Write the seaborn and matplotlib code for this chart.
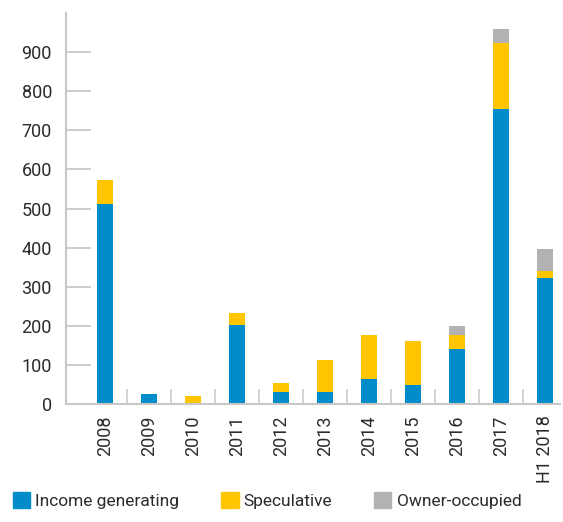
import pandas as pd
import seaborn as sns
import numpy as np
import matplotlib.pyplot as plt
from matplotlib.patches import Patch

years = ['2008', '2009', '2010', '2011', '2012', '2013', '2014', '2015', '2016', '2017', 'H1 2018']
income = [511, 25, 0, 202, 31, 31, 64, 49, 141, 754, 322]
speculative = [62, 0, 20, 31, 23, 81, 112, 112, 35, 169, 18]
owner = [0, 0, 0, 0, 0, 0, 0, 0, 23, 36, 56]

c_blue = '#008bcb'
c_yellow = '#ffc600'
c_grey = '#b2b2b2'

df = pd.DataFrame({'year': years, 'income': income, 'spec': speculative, 'owner': owner})
df['lvl2'] = df['income'] + df['spec']
df['lvl3'] = df['lvl2'] + df['owner']

sns.set_theme(style="white")
plt.rcParams['font.family'] = ['Roboto', 'DejaVu Sans']

fig = plt.figure(figsize=(5.63, 5.22), dpi=100)
ax = fig.add_axes([0.117, 0.226, 0.878, 0.749])

# stacked bars drawn as overlapping totals
sns.barplot(data=df, x='year', y='lvl3', color=c_grey, width=0.37, saturation=1, ax=ax, order=years)
sns.barplot(data=df, x='year', y='lvl2', color=c_yellow, width=0.37, saturation=1, ax=ax, order=years)
sns.barplot(data=df, x='year', y='income', color=c_blue, width=0.37, saturation=1, ax=ax, order=years)
for p in ax.patches:
    p.set_linewidth(0)

ax.set_ylim(0, 1000)
ax.set_xlim(-0.89, 10.35)
ax.set_yticks(np.arange(0, 1000, 100))
ax.set_xlabel('')
ax.set_ylabel('')

txt = '#2b2b2b'
ax.tick_params(axis='y', left=True, direction='in', length=18, width=1.3, color='#c8c8c8',
               labelsize=13, labelcolor=txt, pad=10)
ax.tick_params(axis='x', which='major', bottom=False, length=0, labelsize=13, labelcolor=txt,
               labelrotation=90, pad=8)
ax.set_xticks(np.arange(0.5, 10, 1), minor=True)
ax.tick_params(axis='x', which='minor', bottom=True, direction='in', length=11, width=1.1,
               color='#c8c8c8')

for s in ['top', 'right']:
    ax.spines[s].set_visible(False)
for s in ['left', 'bottom']:
    ax.spines[s].set_color('#c8c8c8')
    ax.spines[s].set_linewidth(1.5)

handles = [Patch(color=c_blue, label='Income generating'),
           Patch(color=c_yellow, label='Speculative'),
           Patch(color=c_grey, label='Owner-occupied')]
fig.legend(handles=handles, loc='lower left', bbox_to_anchor=(-0.005, -0.005), ncol=3,
           frameon=False, fontsize=12.5, handlelength=1.0, handleheight=1.1,
           handletextpad=0.3, columnspacing=2.4, labelcolor=txt)

fig.savefig('out.png', dpi=100)
